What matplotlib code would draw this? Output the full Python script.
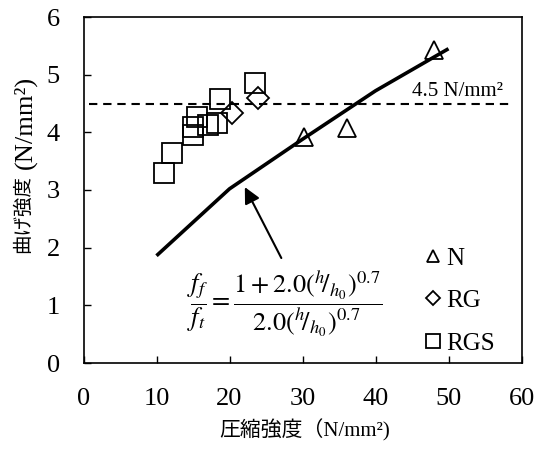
import matplotlib
matplotlib.use("Agg")
import matplotlib.pyplot as plt

plt.rcParams['font.family'] = ['Liberation Serif', 'Noto Sans CJK JP']
plt.rcParams['mathtext.fontset'] = 'stix'

# Data
n_x = [48.0, 30.2, 36.1]
n_y = [5.42, 3.92, 4.07]
rg_x = [23.9, 20.3]
rg_y = [4.59, 4.33]
rgs_x = [23.5, 18.7, 15.5, 18.3, 17.1, 15.0, 15.0, 12.1, 11.0]
rgs_y = [4.85, 4.58, 4.27, 4.16, 4.13, 4.10, 3.95, 3.64, 3.29]
curve_x = [10, 20, 30, 40, 50]
curve_y = [1.86, 3.02, 3.88, 4.72, 5.45]
ref_level = 4.5

xticks = [0, 10, 20, 30, 40, 50, 60]
yticks = [0, 1, 2, 3, 4, 5, 6]

fig = plt.figure(figsize=(5.4, 4.5), dpi=100)
ax = fig.add_axes([83.5 / 540, (450 - 363) / 450, 438 / 540, 346 / 450])

ax.plot(curve_x, curve_y, color='black', lw=2.6, solid_capstyle='butt', zorder=3)
ax.plot([0.7, 59], [ref_level, ref_level], color='black', lw=1.5,
        linestyle=(0, (4, 2.8)), zorder=2)

mk = dict(linestyle='none', markerfacecolor='none', markeredgecolor='black',
          markeredgewidth=1.3, zorder=4)
ax.plot(n_x, n_y, marker='^', markersize=13.5, label='N', **mk)
ax.plot(rg_x, rg_y, marker='D', markersize=11.5, label='RG', **mk)
ax.plot(rgs_x, rgs_y, marker='s', markersize=14.4, label='RGS', **mk)

ax.set_xlim(0, 60)
ax.set_ylim(0, 6)
ax.set_xticks(xticks)
ax.set_yticks(yticks)
ax.tick_params(direction='in', length=5, width=1, labelsize=19)
ax.tick_params(axis='x', pad=18)
ax.tick_params(axis='y', pad=17)
for s in ax.spines.values():
    s.set_linewidth(1.2)

ax.set_xlabel('圧縮強度（N/mm²)', fontsize=15)
ax.xaxis.set_label_coords(0.506, -0.163)

# y label: Japanese part and unit part at their own sizes
ax.text(-0.138, (363 - 214) / 346, '曲げ強度', transform=ax.transAxes,
        rotation=90, fontsize=14, ha='center', va='center')
ax.text(-0.133, (363 - 122) / 346, '(N/mm²)', transform=ax.transAxes,
        rotation=90, fontsize=19, ha='center', va='center')

ax.text(45.0, 4.70, '4.5 N/mm²', fontsize=15, ha='left', va='center')

ax.text(27.6, 1.02,
        r'$\dfrac{f_f}{f_t}=\dfrac{1+2.0(^{h}\!/_{h_0})^{0.7}}{2.0(^{h}\!/_{h_0})^{0.7}}$',
        fontsize=19, ha='center', va='center')
ax.annotate('', xy=(22.1, 3.05), xytext=(27.1, 1.82),
            arrowprops=dict(arrowstyle='-|>', lw=1.5, color='black',
                            mutation_scale=24, shrinkA=0, shrinkB=0))

ax.legend(loc='upper left', bbox_to_anchor=(0.78, 0.335), frameon=False,
          fontsize=18, markerscale=0.65, handlelength=0.6, handletextpad=0.25,
          labelspacing=0.8, borderpad=0, borderaxespad=0)

fig.savefig('out.png', dpi=100)
